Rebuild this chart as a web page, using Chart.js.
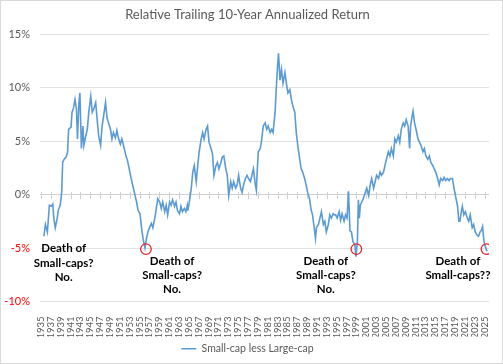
<!DOCTYPE html>
<html>
<head>
<meta charset="utf-8">
<script src="https://cdn.jsdelivr.net/npm/chart.js@4.4.1/dist/chart.umd.min.js"></script>
<style>
  html, body { margin: 0; padding: 0; background: #ffffff; }
  #wrap { width: 503px; height: 364px; }
</style>
</head>
<body>
<div id="wrap"><canvas id="c" width="503" height="364"></canvas></div>
<script>
// ---- DATA ----
const chartTitle = 'Relative Trailing 10-Year Annualized Return';
const seriesName = 'Small-cap less Large-cap';

// decimal years of sampled points
const dates = [
  1935.6,1935.9,1936.3,1936.7,1937.1,1937.4,1937.6,1937.9,1938.3,1938.5,1938.9,1939.2,1939.4,1939.7,1940.1,1940.4,1940.6,1941.1,1941.3,1941.6,
  1941.9,1942.2,1942.4,1942.7,1942.9,1943.2,1943.5,1943.7,1944.1,1944.4,1944.7,1945.1,1945.4,1945.7,1946.1,1946.4,1946.7,1947.1,1947.4,1947.7,
  1948.1,1948.4,1948.7,1949.1,1949.4,1949.7,1950.1,1950.4,1950.7,1951.1,1951.4,1951.9,1952.3,1952.5,1952.9,1953.3,1953.7,1954.1,1954.4,1954.7,
  1955.1,1955.4,1955.7,1956.1,1956.4,1956.7,1957.1,1957.4,1957.7,1958.1,1958.4,1958.7,1959.1,1959.4,1959.7,1960.1,1960.4,1960.7,1961.1,1961.4,
  1961.7,1962.1,1962.4,1962.7,1963.1,1963.4,1963.7,1964.1,1964.4,1964.7,
  1964.8,1965.1,1965.5,1965.8,1966.1,1966.5,1966.8,1967.1,1967.5,1967.8,1968.1,1968.5,1968.8,1969.1,1969.5,1969.8,1970.1,1970.5,1970.8,1971.1,
  1971.5,1971.8,1972.1,1972.5,1972.8,1973.1,1973.5,1973.8,1974.1,1974.5,1974.8,1975.1,1975.5,1975.8,1976.1,1976.5,1976.8,1977.1,1977.5,1977.8,
  1978.1,1978.5,1978.7,1978.9,1979.1,1979.5,1979.8,1980.1,1980.5,1980.8,1981.1,1981.5,1981.8,1982.1,1982.5,1982.8,1983.0,1983.2,1983.5,1983.8,
  1984.1,1984.5,1984.8,1985.1,1985.5,1985.8,1986.1,1986.5,1986.8,1987.1,1987.5,1987.8,1988.1,1988.5,1988.8,1989.1,1989.5,1989.8,1990.1,1990.5,
  1990.7,1990.9,1991.3,1991.6,1991.9,1992.3,1992.6,1992.9,1993.3,1993.6,1993.9,1994.3,1994.6,
  1994.8,1995.1,1995.5,1995.8,1996.1,1996.5,1996.8,1997.1,1997.4,1997.7,1998.0,1998.3,1998.7,1998.9,1999.2,1999.4,1999.6,1999.8,2000.1,2000.4,
  2000.8,2001.1,2001.5,2001.8,2002.1,2002.5,2002.8,2003.1,2003.5,2003.8,2004.1,2004.5,2004.8,2005.1,2005.5,2005.8,2006.1,2006.5,2006.8,2007.1,
  2007.5,2007.8,2008.1,2008.5,2008.8,2009.1,2009.5,2009.8,2010.0,2010.3,2010.5,2010.8,2011.1,2011.5,2011.8,2012.1,2012.5,2012.8,2013.1,2013.5,
  2013.8,2014.1,2014.5,2014.8,2015.1,2015.5,2015.8,2016.1,2016.5,2016.8,2017.1,2017.5,2017.8,2018.1,2018.5,2018.8,2019.1,2019.5,2019.8,2020.0,
  2020.3,2020.5,2020.8,2021.1,2021.5,2021.8,2022.1,2022.5,2022.8,2023.1,2023.5,2023.8,2024.1,2024.4,2024.6,2024.9,2025.1,2025.5
];

// Small-cap less Large-cap, % per year
const relReturn = [
  -3.9,-2.8,-3.5,-1.0,-1.1,-0.9,-2.2,-3.1,-2.2,-1.5,-1.0,0.2,3.0,3.3,3.5,4.0,6.1,6.3,7.7,8.1,
  8.9,8.0,5.2,8.6,9.5,4.3,6.4,4.6,5.5,6.1,7.7,9.2,7.7,8.0,8.6,7.0,5.5,4.6,6.4,7.3,
  8.6,7.2,6.7,6.1,5.2,5.8,5.3,6.0,5.3,4.7,5.2,4.3,3.5,3.3,2.4,1.5,0.7,-0.1,-0.7,-1.5,
  -1.8,-3.1,-4.1,-5.0,-4.1,-3.5,-3.0,-2.7,-3.1,-2.2,-1.3,-0.4,-0.7,-1.3,-0.7,-1.6,-1.0,-1.9,-0.7,-1.0,
  -0.5,-1.1,-0.7,-1.5,-1.8,-1.1,-1.6,-1.3,-1.6,-1.0,
  -1.5,-0.7,0.6,2.1,2.7,1.2,2.7,4.0,5.2,5.8,5.2,6.1,6.4,4.9,4.3,3.8,1.8,2.7,3.0,2.4,
  3.0,3.5,3.6,2.4,1.8,-0.1,1.2,0.6,1.2,0.6,0.9,1.8,0.6,0.2,0.9,1.5,1.8,1.5,1.2,1.8,
  2.4,0.9,0.4,2.4,4.0,4.3,5.2,6.4,6.7,6.1,6.4,5.8,6.1,5.8,7.7,10.4,12.0,13.2,10.7,11.7,
  10.4,11.4,10.4,9.5,9.8,8.9,8.3,7.7,5.8,4.6,3.3,2.4,2.1,1.5,0.9,0.2,-0.4,-1.4,-1.9,-3.3,
  -4.1,-3.1,-2.8,-2.2,-1.6,-2.8,-2.5,-3.5,-2.8,-1.9,-2.2,-1.8,-1.9,
  -1.9,-2.2,-1.6,-2.4,-1.8,-2.5,-1.9,-2.2,0.3,-3.4,-3.5,-4.4,-4.7,-5.8,-4.4,-0.5,-2.2,-1.0,-0.7,-0.4,
  0.2,0.6,-0.1,0.9,1.5,0.6,1.2,1.8,1.5,2.1,1.8,2.1,2.7,3.3,4.0,3.6,4.3,3.6,5.2,4.9,
  5.5,4.9,6.1,6.7,6.4,7.0,6.4,4.3,6.4,7.3,7.8,6.7,6.1,5.2,4.9,4.6,4.0,4.3,3.6,3.3,
  3.6,3.0,2.7,2.4,2.1,1.5,0.9,1.5,1.3,1.6,1.3,1.5,1.3,1.5,1.5,0.6,-0.1,-1.0,-2.5,-2.5,
  -1.6,-1.1,-1.9,-1.6,-2.2,-2.5,-1.9,-3.1,-2.8,-3.5,-3.8,-3.9,-3.5,-3.3,-3.0,-4.4,-4.8,-5.3
];

// highlighted troughs (red circles)
const circleYears  = [1956.3, 1999.0, 2025.4];
const circleValues = [-5.1, -5.1, -5.1];

// x tick labels (every other year)
const tickYears = [
  1935,1937,1939,1941,1943,1945,1947,1949,1951,1953,1955,1957,1959,1961,1963,1965,
  1967,1969,1971,1973,1975,1977,1979,1981,1983,1985,1987,1989,1991,1993,1995,1997,
  1999,2001,2003,2005,2007,2009,2011,2013,2015,2017,2019,2021,2023,2025
];

// y tick values
const yTicks = [-10, -5, 0, 5, 10, 15];

// annotation texts
const noteTexts = [
  ['Death of', 'Small-caps?', 'No.'],
  ['Death of', 'Small-caps?', 'No.'],
  ['Death of', 'Small-caps?', 'No.'],
  ['Death of', 'Small-caps??']
];
// anchor (data coordinates) for each note
const noteAnchorYears  = [1939.6, 1961.6, 1992.8, 2019.6];
const noteAnchorValues = [-5.05, -6.2, -6.2, -6.2];

// ---- CHART ----
const FONT = 'Lato, "Open Sans", sans-serif';
const GREY = '#595959';

const lineData = dates.map((d, i) => ({ x: d, y: relReturn[i] }));
const circleData = circleYears.map((d, i) => ({ x: d, y: circleValues[i] }));

const decorPlugin = {
  id: 'decor',
  beforeDraw(chart) {
    const c = chart.ctx;
    c.save();
    c.fillStyle = '#ffffff';
    c.fillRect(0, 0, chart.width, chart.height);
    c.strokeStyle = '#d9d9d9';
    c.lineWidth = 1;
    c.strokeRect(0.5, 0.5, chart.width - 1, chart.height - 1);
    c.restore();
  },
  beforeDatasetsDraw(chart) {
    const c = chart.ctx;
    const xs = chart.scales.x, ys = chart.scales.y;
    const y0 = Math.round(ys.getPixelForValue(0)) + 0.5;
    c.save();
    c.strokeStyle = '#d0d0d0';
    c.lineWidth = 1;
    c.beginPath();
    tickYears.forEach(v => {
      const px = Math.round(xs.getPixelForValue(v)) + 0.5;
      c.moveTo(px, y0 - 3.5);
      c.lineTo(px, y0 + 3.5);
    });
    c.stroke();
    c.restore();
  },
  afterDatasetsDraw(chart) {
    const c = chart.ctx;
    const xs = chart.scales.x, ys = chart.scales.y;
    c.save();
    c.fillStyle = '#000000';
    c.font = 'bold 11.5px ' + FONT;
    c.textAlign = 'center';
    c.textBaseline = 'middle';
    noteTexts.forEach((lines, i) => {
      const px = xs.getPixelForValue(noteAnchorYears[i]);
      const py = ys.getPixelForValue(noteAnchorValues[i]);
      lines.forEach((t, j) => c.fillText(t, px, py + j * 14.3));
    });
    c.restore();
  }
};

new Chart(document.getElementById('c'), {
  type: 'line',
  data: {
    datasets: [
      {
        label: seriesName,
        data: lineData,
        borderColor: '#5b9bd5',
        backgroundColor: '#5b9bd5',
        borderWidth: 1.6,
        pointRadius: 0,
        tension: 0,
        fill: false,
        order: 2
      },
      {
        label: 'troughs',
        data: circleData,
        showLine: false,
        pointRadius: 5.3,
        pointBorderWidth: 1.3,
        pointBorderColor: '#e3262b',
        pointBackgroundColor: 'rgba(0,0,0,0)',
        order: 1
      }
    ]
  },
  options: {
    responsive: false,
    animation: false,
    layout: { padding: { left: 0, right: 8, top: 0, bottom: 0 } },
    scales: {
      x: {
        type: 'linear',
        min: 1934.8,
        max: 2025.9,
        grid: { display: false },
        border: { display: false },
        ticks: {
          autoSkip: false,
          minRotation: 90,
          maxRotation: 90,
          padding: 7,
          color: GREY,
          font: { family: FONT, size: 9.5 },
          callback: v => String(v)
        },
        afterBuildTicks: s => { s.ticks = tickYears.map(v => ({ value: v })); },
        afterFit: s => { s.height = 35; }
      },
      y: {
        min: -10,
        max: 15,
        grid: {
          color: ctx => ctx.tick && ctx.tick.value === 0 ? '#d0d0d0' : '#e2e2e2',
          drawTicks: false,
          lineWidth: 1
        },
        border: { display: false },
        ticks: {
          padding: 10,
          color: ctx => ctx.tick && ctx.tick.value < 0 ? '#ff0000' : GREY,
          font: { family: FONT, size: 11 },
          callback: v => v + '%'
        },
        afterBuildTicks: s => { s.ticks = yTicks.map(v => ({ value: v })); },
        afterFit: s => { s.width = 40; }
      }
    },
    plugins: {
      title: {
        display: true,
        text: chartTitle,
        color: GREY,
        font: { family: FONT, size: 13, weight: 'normal' },
        padding: { top: 7, bottom: 11.5 }
      },
      legend: {
        position: 'bottom',
        labels: {
          filter: item => item.datasetIndex === 0,
          usePointStyle: true,
          pointStyle: 'line',
          pointStyleWidth: 15,
          boxHeight: 2,
          padding: 7,
          color: GREY,
          font: { family: FONT, size: 10.5 }
        }
      },
      tooltip: { enabled: false }
    }
  },
  plugins: [decorPlugin]
});
</script>
</body>
</html>
